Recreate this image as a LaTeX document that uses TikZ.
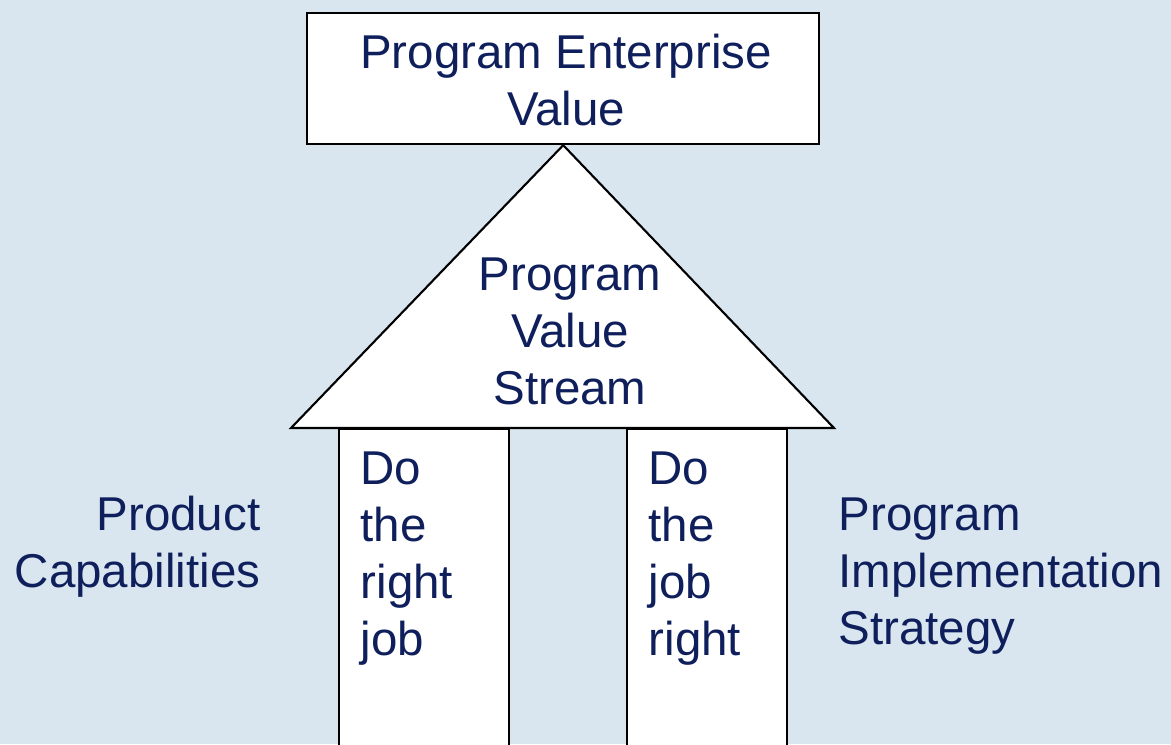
\documentclass[tikz,border=0pt]{standalone}
\usepackage{fontspec}
\setmainfont{Liberation Sans}
\usetikzlibrary{positioning}
\definecolor{bgblue}{HTML}{D9E6F0}
\definecolor{inkblue}{HTML}{0F1F5C}

\begin{document}
\begin{tikzpicture}
    [
        x=0.01cm, y=-0.01cm,
        basic/.style = {draw=black, line width=0.6pt, fill=white},
        words/.style = {text=inkblue, inner sep=0pt, font=\fontsize{13.5}{16.2}\selectfont},
        pillar/.style = {basic, minimum width=1.7cm, minimum height=3.3cm, anchor=north west, inner sep=0pt},
    ]
    \fill [bgblue] (0,0) rectangle (1171,744);
    \useasboundingbox (0,0) rectangle (1171,744);

    \node [basic, minimum width=5.12cm, minimum height=1.31cm, anchor=north west, inner sep=0pt] (top) at (306,12) {};
    \draw [basic] (291,428) -- (top.south) -- (834,428) -- cycle;

    \node [pillar] (left) at (338,428) {};
    \node [pillar, minimum width=1.6cm] (right) at (626,428) {};

    \node [words, align=center, anchor=base] (topText) at (566,125) {Program Enterprise\\Value};
    \node [words, align=center, anchor=base] (roofText) at (570,404) {Program\\Value\\Stream};

    \node [words, align=left, anchor=base west] (leftText) at (360,655) {Do\\the\\right\\job};
    \node [words, align=left, anchor=base west] (rightText) at (648,655) {Do\\the\\job\\right};

    \node [words, align=right, anchor=base east] (product) at (261,587) {Product\\Capabilities};
    \node [words, align=left, anchor=base west] (strategy) at (838,644) {Program\\Implementation\\Strategy};

\end{tikzpicture}
\end{document}
